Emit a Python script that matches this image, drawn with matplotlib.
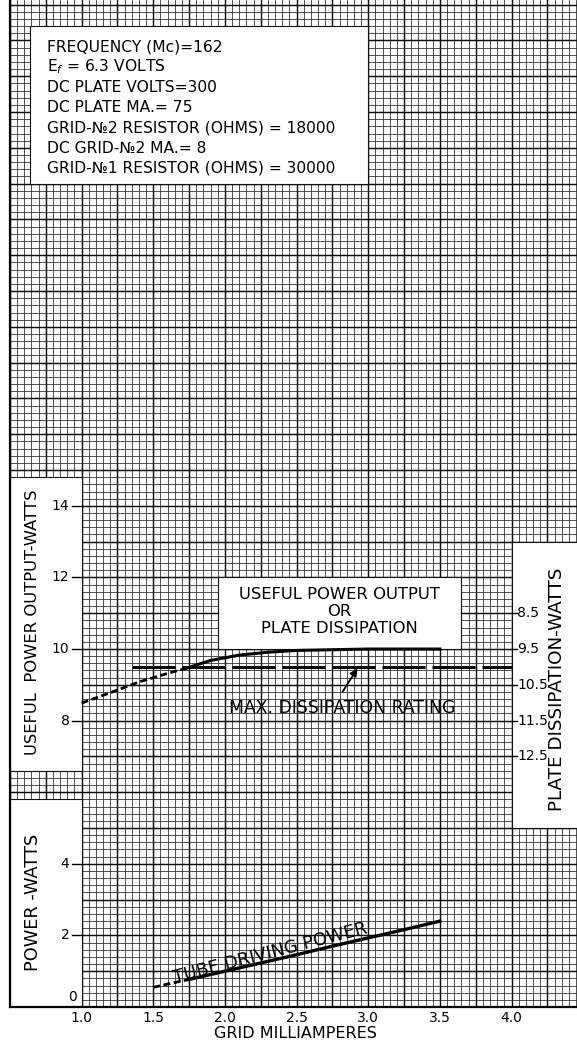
import matplotlib
matplotlib.use("Agg")
import matplotlib.pyplot as plt
import numpy as np
from matplotlib.patches import Rectangle

plt.rcParams['font.family'] = ['DejaVu Sans']
plt.rcParams['mathtext.fontset'] = 'dejavusans'
plt.rcParams['lines.scale_dashes'] = False

# ---- data ----
# useful power output (watts) vs grid milliamperes
out_dash_ma = [1.0, 1.2, 1.4, 1.6, 1.72]
out_dash_w = [8.49, 8.78, 9.08, 9.32, 9.45]
out_solid_ma = [1.72, 1.9, 2.1, 2.3, 2.5, 2.75, 3.0, 3.25, 3.5]
out_solid_w = [9.45, 9.68, 9.83, 9.91, 9.96, 9.98, 10.0, 10.0, 10.0]

# tube driving power (watts)
drive_dash_ma = [1.5, 1.6, 1.75]
drive_dash_w = [0.55, 0.64, 0.77]
drive_solid_ma = [1.75, 2.0, 2.25, 2.5, 2.75, 3.0, 3.25, 3.5]
drive_solid_w = [0.77, 1.0, 1.23, 1.46, 1.7, 1.93, 2.16, 2.4]

# max plate dissipation rating, drawn on the output scale
max_rating_ma = [1.35, 4.0]
max_rating_w = 9.5

x_ticks = [1.0, 1.5, 2.0, 2.5, 3.0, 3.5, 4.0]
output_ticks = [8, 10, 12, 14]
power_ticks = [0, 2, 4]
diss_ticks = [8.5, 9.5, 10.5, 11.5, 12.5]
DISS_OFFSET = 19.5   # plate dissipation = 19.5 - useful output

conditions = [
    "FREQUENCY (Mc)=162",
    "E$_{f}$ = 6.3 VOLTS",
    "DC PLATE VOLTS=300",
    "DC PLATE MA.= 75",
    "GRID-\u21162 RESISTOR (OHMS) = 18000",
    "DC GRID-\u21162 MA.= 8",
    "GRID-\u21161 RESISTOR (OHMS) = 30000",
]

# ---- figure ----
fig = plt.figure(figsize=(5.77, 10.43), dpi=100)
ax = fig.add_axes([10 / 577, 36 / 1043, 567 / 577, 1007 / 1043])
ax.set_xlim(0.5, 4.457)
ax.set_ylim(0, 28.13)

ax.set_xticks(np.arange(0.5, 4.46, 0.25))
ax.set_xticks(np.arange(0.5, 4.46, 0.05), minor=True)
ax.set_yticks(np.arange(0, 28.1, 1.0))
ax.set_yticks(np.arange(0, 28.1, 0.2), minor=True)
ax.grid(which='major', color='#0d0d0d', lw=1.05)
ax.grid(which='minor', color='#333333', lw=0.6)
ax.set_axisbelow(True)
ax.tick_params(which='both', length=0, labelbottom=False, labelleft=False)
for s in ['top', 'right']:
    ax.spines[s].set_visible(False)
for s in ['left', 'bottom']:
    ax.spines[s].set_linewidth(1.6)

# blank (unruled) areas of the sheet
blanks = [
    (0.64, 23.0, 3.0, 27.4),
    (0.5, 6.6, 1.0, 14.8),
    (0.5, 0.0, 1.0, 5.8),
    (4.0, 5.0, 4.6, 13.0),
    (1.95, 10.0, 3.65, 12.0),
]
for x0, y0, x1, y1 in blanks:
    ax.add_patch(Rectangle((x0, y0), x1 - x0, y1 - y0, facecolor='white',
                           edgecolor='#111111', lw=0.8, zorder=1))

# curves
ax.plot(out_dash_ma, out_dash_w, color='k', lw=2.0, dashes=(5, 2.5), zorder=3)
ax.plot(out_solid_ma, out_solid_w, color='k', lw=2.2, zorder=3)
ax.plot(drive_dash_ma, drive_dash_w, color='k', lw=2.0, dashes=(5, 2.5), zorder=3)
ax.plot(drive_solid_ma, drive_solid_w, color='k', lw=2.4, zorder=3)
ax.plot(max_rating_ma, [max_rating_w] * 2, color='k', lw=2.2, dashes=(31, 5), zorder=3)

ax.annotate('', xy=(2.925, max_rating_w - 0.04), xytext=(2.82, 8.8),
            arrowprops=dict(arrowstyle='-|>', color='k', lw=1.3,
                            mutation_scale=11, shrinkA=0, shrinkB=0), zorder=4)

# conditions box
for i, line in enumerate(conditions):
    ax.text(0.755, 26.82 - i * 0.565, line, fontsize=11.2, va='center', ha='left', zorder=4)

# legend box
ax.text(2.8, 11.52, "USEFUL POWER OUTPUT", fontsize=11.8, ha='center', va='center', zorder=4)
ax.text(2.8, 11.04, "OR", fontsize=11.8, ha='center', va='center', zorder=4)
ax.text(2.8, 10.57, "PLATE DISSIPATION", fontsize=11.8, ha='center', va='center', zorder=4)

ax.text(2.815, 8.36, "MAX. DISSIPATION RATING", fontsize=12.4, ha='center', va='center', zorder=4)
ax.text(1.65, 0.66, "TUBE DRIVING POWER", fontsize=12.8, ha='left', va='baseline',
        rotation=14.5, rotation_mode='anchor', zorder=4)

# left scales
for v in output_ticks + power_ticks[1:]:
    ax.text(0.915, v, str(v), fontsize=10, ha='right', va='center', zorder=4)
    ax.plot([0.93, 1.0], [v, v], color='k', lw=1.0, zorder=3)
ax.text(0.97, 0.08, str(power_ticks[0]), fontsize=10, ha='right', va='bottom', zorder=4)

ax.text(0.66, 10.75, "USEFUL  POWER OUTPUT-WATTS", fontsize=11.8, rotation=90,
        ha='center', va='center', zorder=4)
ax.text(0.66, 2.93, "POWER -WATTS", fontsize=12.8, rotation=90,
        ha='center', va='center', zorder=4)

# right scale (plate dissipation)
for d in diss_ticks:
    y = DISS_OFFSET - d
    ax.plot([4.0, 4.035], [y, y], color='k', lw=1.0, zorder=3)
    ax.text(4.04, y, str(d), fontsize=10, ha='left', va='center', zorder=4)
ax.text(4.32, 8.88, "PLATE DISSIPATION-WATTS", fontsize=13.2, rotation=90,
        ha='center', va='center', zorder=4)

# x scale
xt = ax.get_xaxis_transform()
for x in x_ticks:
    ax.text(x, -0.011, f"{x:.1f}", fontsize=10, ha='center', va='center',
            transform=xt, clip_on=False)
ax.text(2.49, -0.026, "GRID MILLIAMPERES", fontsize=11.5, ha='center', va='center',
        transform=xt, clip_on=False)

fig.savefig("out.png", dpi=100)
